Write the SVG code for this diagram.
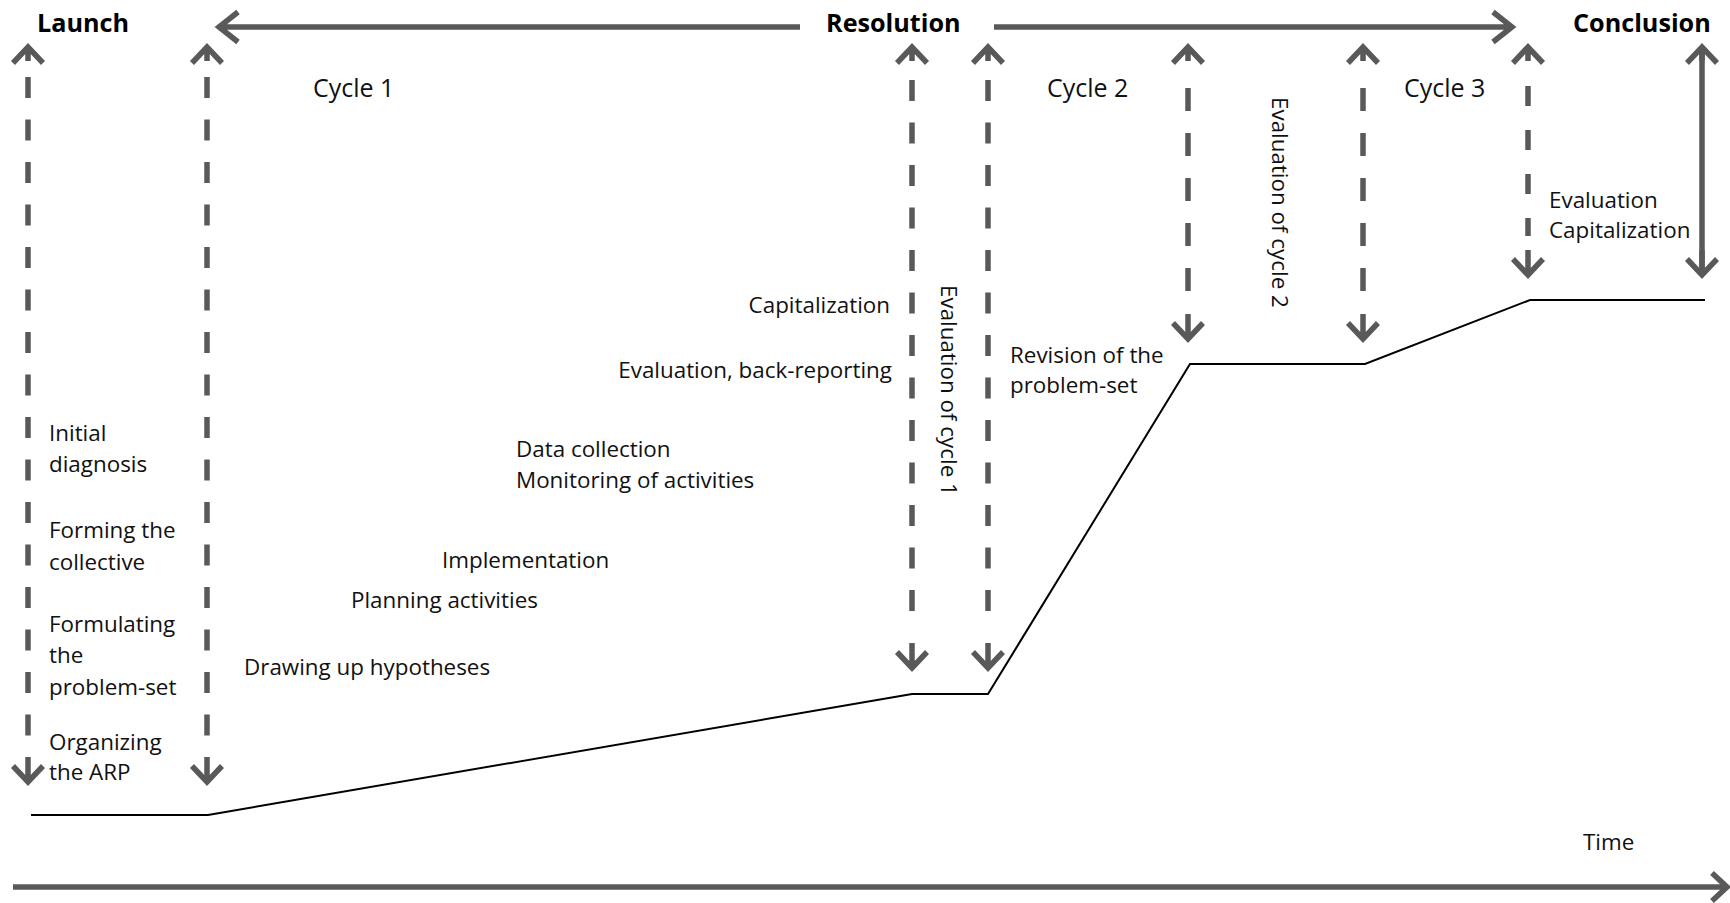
<svg xmlns="http://www.w3.org/2000/svg" xmlns:xlink="http://www.w3.org/1999/xlink" width="1730" height="903" viewBox="0 0 1730 903">
<style>
.t{font-family:"Open Sans","Noto Sans",sans-serif;font-size:22.4px;fill:#111}
.cy{font-size:25px}
.b{font-family:"Open Sans","Noto Sans",sans-serif;font-size:25.2px;font-weight:bold;fill:#000}
.g{fill:none;stroke:#595959;stroke-width:5.5;stroke-linejoin:miter;stroke-linecap:butt}
.d{fill:none;stroke:#595959;stroke-width:5.5;stroke-dasharray:21 21.5}
.c{fill:none;stroke:#000;stroke-width:2}
</style>
<defs>
<path id="up" d="M-15,16 L0,0 L15,16 M0,0 L0,14"/>
<path id="dn" d="M-15,-16 L0,0 L15,-16 M0,0 L0,-25"/>
</defs>
<rect width="1730" height="903" fill="#fff"/>

<g id="connectors">
  <g id="phase-arrows">
    <path class="g" d="M220,27 L800,27 M238,12 L219,27 L238,42"/>
    <path class="g" d="M994,27 L1511,27 M1493,12 L1512,27 L1493,42"/>
  </g>
  <g id="arrow1"><path class="d" d="M28,77 L28,736"/><use xlink:href="#up" class="g" x="28" y="47"/><use xlink:href="#dn" class="g" x="28" y="782"/></g>
  <g id="arrow2"><path class="d" d="M207,77 L207,736"/><use xlink:href="#up" class="g" x="207" y="47"/><use xlink:href="#dn" class="g" x="207" y="782"/></g>
  <g id="arrow3"><path class="d" d="M912,80 L912,622"/><use xlink:href="#up" class="g" x="912" y="47"/><use xlink:href="#dn" class="g" x="912" y="668"/></g>
  <g id="arrow4"><path class="d" d="M988,80 L988,622"/><use xlink:href="#up" class="g" x="988" y="47"/><use xlink:href="#dn" class="g" x="988" y="668"/></g>
  <g id="arrow5"><path class="d" style="stroke-dasharray:23 22" d="M1188,88 L1188,293"/><use xlink:href="#up" class="g" x="1188" y="47"/><use xlink:href="#dn" class="g" x="1188" y="339"/></g>
  <g id="arrow6"><path class="d" style="stroke-dasharray:23 22" d="M1363,88 L1363,293"/><use xlink:href="#up" class="g" x="1363" y="47"/><use xlink:href="#dn" class="g" x="1363" y="339"/></g>
  <g id="arrow7"><path class="d" style="stroke-dasharray:20 24" d="M1528,86 L1528,236"/><use xlink:href="#up" class="g" x="1528" y="47"/><use xlink:href="#dn" class="g" x="1528" y="275"/></g>
  <g id="arrow8"><path class="g" d="M1702,49 L1702,273"/><use xlink:href="#up" class="g" x="1702" y="47"/><use xlink:href="#dn" class="g" x="1702" y="275"/></g>
  <g id="progress-curve"><polyline class="c" points="31,815 208,815 912,694 988,694 1190,364 1365,364 1530,300 1705,300"/></g>
  <g id="time-axis"><path class="g" d="M13,887 L1725,887 M1712,873 L1727,887 L1712,901"/></g>
</g>

<g id="titles">
  <text id="launch" class="b" x="37" y="32">Launch</text>
  <text id="resolution" class="b" x="826" y="32">Resolution</text>
  <text id="conclusion" class="b" x="1573" y="32">Conclusion</text>
</g>

<g id="cycles">
  <text id="cycle1" class="t cy" x="313" y="97">Cycle 1</text>
  <text id="cycle2" class="t cy" x="1047" y="97">Cycle 2</text>
  <text id="cycle3" class="t cy" x="1404" y="97">Cycle 3</text>
</g>

<g id="launch-steps">
  <text class="t" x="49" y="441">Initial</text>
  <text class="t" x="49" y="472">diagnosis</text>
  <text class="t" x="49" y="538">Forming the</text>
  <text class="t" x="49" y="570">collective</text>
  <text class="t" x="49" y="632">Formulating</text>
  <text class="t" x="49" y="663">the</text>
  <text class="t" x="49" y="695">problem-set</text>
  <text class="t" x="49" y="750">Organizing</text>
  <text class="t" x="49" y="780">the ARP</text>
</g>

<g id="cycle1-steps">
  <text class="t" x="244" y="675">Drawing up hypotheses</text>
  <text class="t" x="351" y="608">Planning activities</text>
  <text class="t" x="442" y="568">Implementation</text>
  <text class="t" x="516" y="457">Data collection</text>
  <text class="t" x="516" y="488">Monitoring of activities</text>
  <text class="t" x="892" y="378" text-anchor="end">Evaluation, back-reporting</text>
  <text class="t" x="890" y="313" text-anchor="end">Capitalization</text>
</g>

<g id="evaluations">
  <text class="t" transform="translate(941,285) rotate(90)">Evaluation of cycle 1</text>
  <text class="t" transform="translate(1272,97) rotate(90)">Evaluation of cycle 2</text>
  <text class="t" x="1010" y="363">Revision of the</text>
  <text class="t" x="1010" y="393">problem-set</text>
  <text class="t" x="1549" y="208">Evaluation</text>
  <text class="t" x="1549" y="238">Capitalization</text>
</g>

<text id="time" class="t" x="1583" y="850">Time</text>
</svg>
